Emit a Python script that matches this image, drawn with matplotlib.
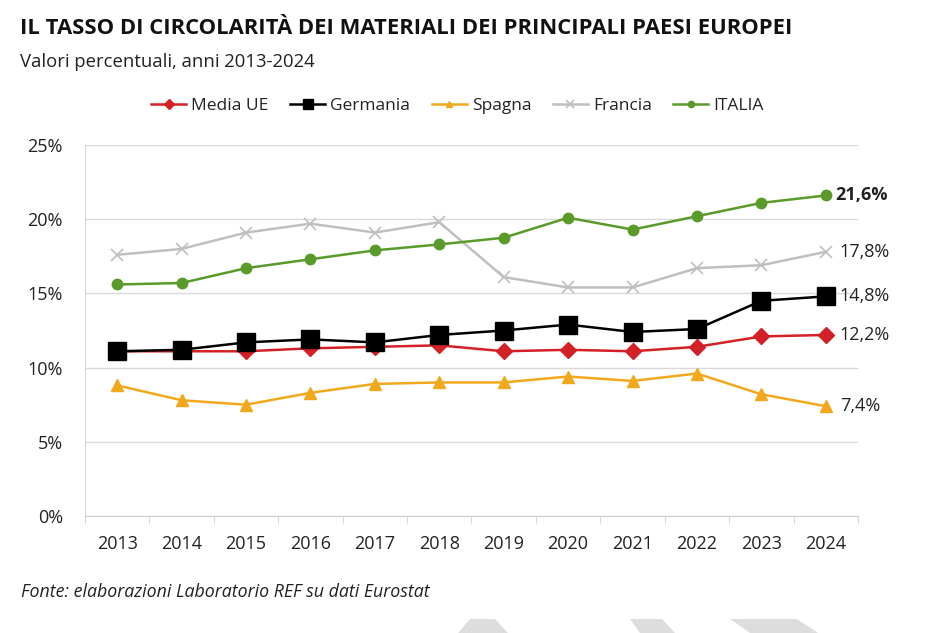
import numpy as np
import matplotlib
matplotlib.use("Agg")
import matplotlib.pyplot as plt
from matplotlib.patches import Polygon

plt.rcParams['font.family'] = ['Open Sans', 'DejaVu Sans']

# dati (valori percentuali)
anni = ['2013', '2014', '2015', '2016', '2017', '2018',
        '2019', '2020', '2021', '2022', '2023', '2024']
media_ue = [11.1, 11.1, 11.1, 11.3, 11.4, 11.5, 11.1, 11.2, 11.1, 11.4, 12.1, 12.2]
germania = [11.1, 11.2, 11.7, 11.9, 11.7, 12.2, 12.5, 12.9, 12.4, 12.6, 14.5, 14.8]
spagna = [8.8, 7.8, 7.5, 8.3, 8.9, 9.0, 9.0, 9.4, 9.1, 9.6, 8.2, 7.4]
francia = [17.6, 18.0, 19.1, 19.7, 19.1, 19.8, 16.1, 15.4, 15.4, 16.7, 16.9, 17.8]
italia = [15.6, 15.7, 16.7, 17.3, 17.9, 18.3, 18.75, 20.1, 19.3, 20.2, 21.1, 21.6]

etichette_fine = ['12,2%', '14,8%', '7,4%', '17,8%', '21,6%']

fig = plt.figure(figsize=(9.28, 6.33), dpi=100)
ax = fig.add_axes([85/928, 1 - 516/633, 773/928, 371/633])

x = np.arange(len(anni))

serie = [
    ('Media UE', media_ue, '#D42027', 'D', 8, 1.8),
    ('Germania', germania, '#000000', 's', 12.5, 1.8),
    ('Spagna', spagna, '#F2A81D', '^', 8, 1.8),
    ('Francia', francia, '#BFBFBF', 'x', 9, 1.8),
    ('ITALIA', italia, '#5A9A2A', 'o', 7.5, 1.8),
]

for nome, valori, col, mk, ms, lw in serie:
    if mk == 'x':
        ax.plot(x, valori, color=col, lw=lw, marker=mk, ms=ms, mew=1.2, label=nome, zorder=3)
    else:
        ax.plot(x, valori, color=col, lw=lw, marker=mk, ms=ms, mec=col, label=nome, zorder=3)

# etichette ultimo anno
for (nome, valori, col, mk, ms, lw), testo in zip(serie, etichette_fine):
    peso = 'bold' if nome == 'ITALIA' else 'normal'
    dx = 7 if nome == 'ITALIA' else 10
    ax.annotate(testo, (x[-1], valori[-1]), xytext=(dx, 0), textcoords='offset points',
                va='center', ha='left', fontsize=13, fontweight=peso, color='#222222',
                annotation_clip=False)

ax.set_xlim(-0.5, 11.5)
ax.set_ylim(0, 25)
ax.set_yticks([0, 5, 10, 15, 20, 25])
ax.set_yticklabels(['0%', '5%', '10%', '15%', '20%', '25%'])
ax.set_xticks(x)
ax.set_xticklabels(anni)
ax.set_xticks(np.arange(-0.5, 12, 1), minor=True)
ax.tick_params(axis='x', which='major', length=0, pad=14, labelsize=13, colors='#222222')
ax.tick_params(axis='x', which='minor', length=5, color='#D0D0D0')
ax.tick_params(axis='y', length=0, pad=16, labelsize=13, colors='#222222')
ax.grid(axis='y', color='#D9D9D9', lw=1)
ax.set_axisbelow(True)
for s in ['top', 'right']:
    ax.spines[s].set_visible(False)
ax.spines['left'].set_color('#D9D9D9')
ax.spines['bottom'].set_color('#D0D0D0')

fig.legend(loc='center', bbox_to_anchor=(0.493, 1 - 106/633), ncol=5, frameon=False,
           fontsize=12.5, handlelength=2.0, handletextpad=0.3, columnspacing=1.25,
           labelcolor='#222222', markerscale=0.6)

fig.text(20/928, 1 - 28/633, 'IL TASSO DI CIRCOLARITÀ DEI MATERIALI DEI PRINCIPALI PAESI EUROPEI',
         fontsize=15.8, fontweight='bold', va='center', ha='left', color='#111111')
fig.text(20/928, 1 - 62/633, 'Valori percentuali, anni 2013-2024',
         fontsize=13.3, va='center', ha='left', color='#222222')
fig.text(21/928, 1 - 592/633, 'Fonte: elaborazioni Laboratorio REF su dati Eurostat',
         fontsize=12.8, style='italic', va='center', ha='left', color='#222222')

# forme grigie in basso (filigrana)
W, H = 928, 633
for pts in [[(470, 619), (495, 619), (508, 633), (458, 633)],
            [(630, 619), (662, 619), (675, 633), (640, 633)],
            [(730, 619), (797, 619), (818, 633), (750, 633)]]:
    fig.patches.append(Polygon([(px/W, 1 - py/H) for px, py in pts], closed=True,
                               transform=fig.transFigure, color='#DDDDDD', lw=0))

fig.savefig('out.png', dpi=100)
